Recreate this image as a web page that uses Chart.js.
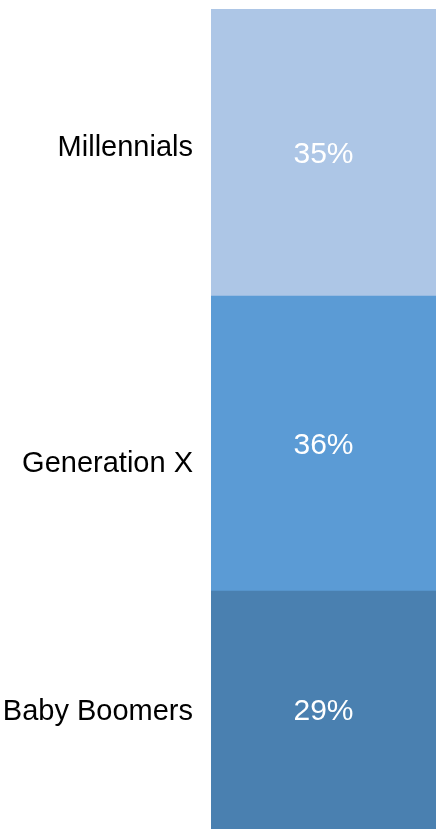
<!DOCTYPE html>
<html>
<head>
<meta charset="utf-8">
<script src="https://cdn.jsdelivr.net/npm/chart.js@4/dist/chart.umd.min.js"></script>
<style>
  html, body { margin: 0; padding: 0; background: #fff; }
  #wrap { position: relative; width: 436px; height: 829px; }
</style>
</head>
<body>
<div id="wrap"><canvas id="genChart"></canvas></div>
<script>
const categories = ["All"];
const generations = ["Baby Boomers", "Generation X", "Millennials"];
const shares = [29, 36, 35];
// where the generation names sit on the 0-100 axis
const nameTicks = [14.3, 44.5, 83];
const colors = ["#4a80b0", "#5b9bd5", "#adc6e6"];

const pctLabels = {
    id: "pctLabels",
    afterDatasetsDraw(chart) {
        const ctx = chart.ctx;
        ctx.save();
        ctx.fillStyle = "#ffffff";
        ctx.font = "30px 'Liberation Sans', Arial, sans-serif";
        ctx.textAlign = "center";
        ctx.textBaseline = "middle";
        chart.data.datasets.forEach((ds, i) => {
            chart.getDatasetMeta(i).data.forEach((bar, j) => {
                const p = bar.getProps(["x", "y", "base"], true);
                ctx.fillText(ds.data[j] + "%", p.x, (p.y + p.base) / 2 + 2);
            });
        });
        ctx.restore();
    }
};

const data = {
    labels: categories,
    datasets: generations.map((g, i) => ({
        label: g,
        data: [shares[i]],
        backgroundColor: colors[i],
        borderWidth: 0,
        barPercentage: 1,
        categoryPercentage: 1
    }))
};

const config = {
    type: "bar",
    data: data,
    options: {
        responsive: true,
        maintainAspectRatio: false,
        animation: false,
        layout: { padding: { top: 9, left: 3, right: 0, bottom: 0 } },
        plugins: { legend: { display: false }, tooltip: { enabled: false } },
        scales: {
            x: {
                stacked: true,
                display: false
            },
            y: {
                stacked: true,
                min: 0,
                max: 100,
                grid: { display: false },
                border: { display: false },
                afterBuildTicks: axis => { axis.ticks = nameTicks.map(v => ({ value: v })); },
                afterFit: axis => {
                    axis.paddingTop = 0;
                    axis.paddingBottom = 0;
                    axis.width = 208;
                },
                ticks: {
                    autoSkip: false,
                    padding: 10,
                    color: "#000000",
                    font: { family: "'Liberation Sans', Arial, sans-serif", size: 29 },
                    callback: v => generations[nameTicks.indexOf(v)]
                }
            }
        }
    },
    plugins: [pctLabels]
};

new Chart(document.getElementById("genChart"), config);
</script>
</body>
</html>
